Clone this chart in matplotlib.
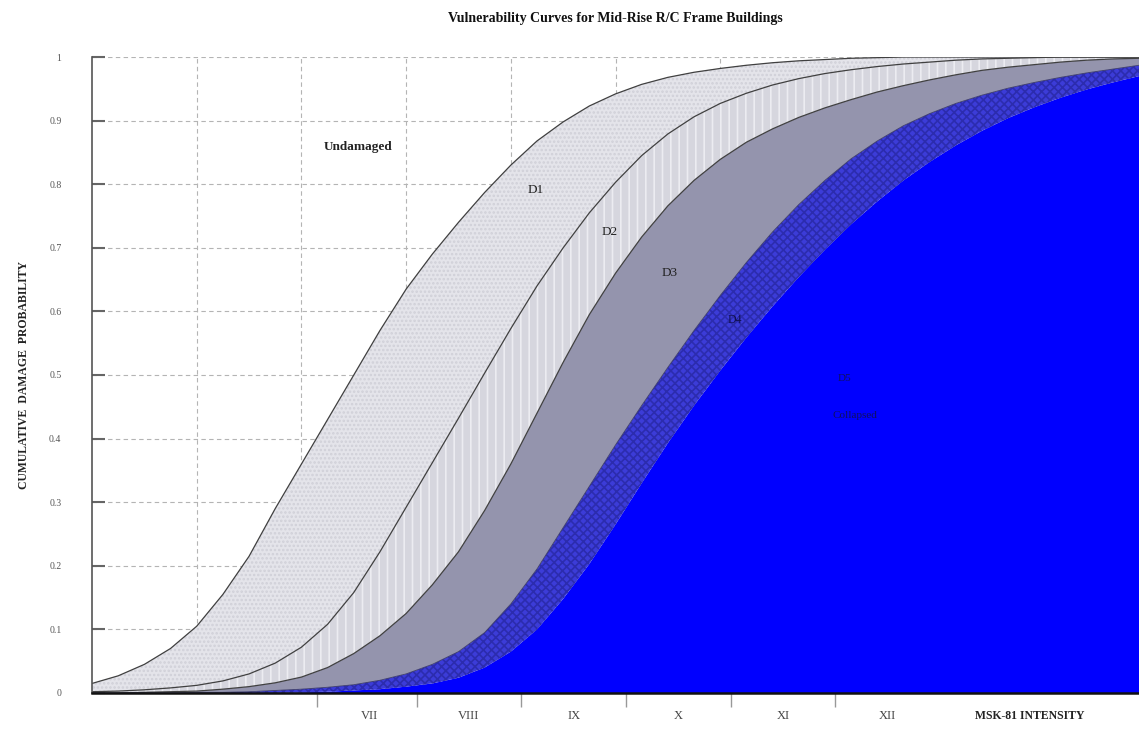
import numpy as np
import matplotlib; matplotlib.use("Agg")
import matplotlib.pyplot as plt

plt.rcParams["font.family"] = ["Liberation Serif", "DejaVu Serif"]
plt.rcParams["hatch.linewidth"] = 1.2

X = np.arange(0, 10.01, 0.25)

C1 = [0.015, 0.027, 0.045, 0.07, 0.105, 0.155, 0.215, 0.29, 0.36, 0.43, 0.50, 0.57, 0.635, 0.69,
      0.74, 0.787, 0.83, 0.868, 0.898, 0.923, 0.942, 0.957, 0.968, 0.976, 0.982, 0.987, 0.991,
      0.994, 0.996, 0.998, 0.999, 1, 1, 1, 1, 1, 1, 1, 1, 1, 1]
C2 = [0.002, 0.003, 0.005, 0.008, 0.012, 0.019, 0.03, 0.047, 0.072, 0.108, 0.158, 0.222, 0.292,
      0.362, 0.432, 0.503, 0.573, 0.64, 0.70, 0.755, 0.803, 0.845, 0.879, 0.906, 0.927, 0.943, 0.956,
      0.966, 0.974, 0.98, 0.985, 0.989, 0.992, 0.995, 0.997, 0.998, 0.999, 1, 1, 1, 1]
C3 = [0, 0, 0.001, 0.002, 0.003, 0.006, 0.01, 0.016, 0.025, 0.04, 0.062, 0.09, 0.125, 0.17, 0.222,
      0.287, 0.36, 0.44, 0.52, 0.595, 0.66, 0.717, 0.766, 0.806, 0.839, 0.866, 0.887, 0.905, 0.92,
      0.933, 0.945, 0.955, 0.964, 0.972, 0.979, 0.984, 0.988, 0.992, 0.995, 0.997, 0.998]
C4 = [0, 0, 0, 0, 0.001, 0.001, 0.002, 0.004, 0.006, 0.009, 0.013, 0.02, 0.03, 0.045, 0.065, 0.095,
      0.14, 0.195, 0.26, 0.325, 0.39, 0.452, 0.512, 0.57, 0.625, 0.677, 0.725, 0.768, 0.806, 0.84,
      0.868, 0.892, 0.911, 0.927, 0.94, 0.951, 0.96, 0.968, 0.975, 0.981, 0.987]
C5 = [0, 0, 0, 0, 0, 0, 0, 0, 0.001, 0.002, 0.004, 0.006, 0.01, 0.015, 0.024, 0.04, 0.065, 0.1,
      0.148, 0.203, 0.265, 0.33, 0.393, 0.452, 0.507, 0.559, 0.608, 0.654, 0.697, 0.737, 0.773,
      0.806, 0.835, 0.861, 0.884, 0.904, 0.921, 0.936, 0.949, 0.96, 0.97]

intens_labels = ["VII", "VIII", "IX", "X", "XI", "XII"]
intens_ticks = [2.15, 3.1, 4.1, 5.1, 6.1, 7.1]
yticks = np.round(np.arange(0, 1.01, 0.1), 1)
ytick_labels = ["0"] + [f"{v:.1f}" for v in yticks[1:-1]] + ["1"]

fig = plt.figure(figsize=(11.39, 7.29), dpi=100)
ax = fig.add_axes([0.0808, 0.0494, 0.9192, 0.8724])
ax.set_xlim(0, 10); ax.set_ylim(0, 1)

# grid (under the fills)
for gx in range(1, 10):
    ax.axvline(gx, color="#b4b4b4", lw=0.8, ls=(0, (4, 3)), zorder=0)
for gy in yticks[1:]:
    ax.axhline(gy, color="#b4b4b4", lw=0.8, ls=(0, (4, 3)), zorder=0)

# damage bands
ax.fill_between(X, 0, C5, facecolor="#0000ff", lw=0, zorder=1)
ax.fill_between(X, C5, C4, facecolor="#3c3cd8", edgecolor="#2c2cae", hatch="xxxx", lw=0, zorder=1)
ax.fill_between(X, C4, C3, facecolor="#9494ad", lw=0, zorder=1)
ax.fill_between(X, C3, C2, facecolor="#d6d6de", edgecolor="#ececf1", hatch="||", lw=0, zorder=1)
ax.fill_between(X, C2, C1, facecolor="#e4e4ea", edgecolor="#d0d0d8", hatch="....", lw=0, zorder=1)
for c, col, w in [(C1, "#404040", 0.9), (C2, "#404040", 0.9), (C3, "#404040", 0.9),
                  (C4, "#3a3a6a", 0.6)]:
    ax.plot(X, c, color=col, lw=w, zorder=2)

# labels in the bands
ax.text(2.54, 0.858, "Undamaged", fontsize=9.5, fontweight="bold", color="#222", ha="center", va="center")
ax.text(4.24, 0.791, "D1", fontsize=9.5, color="#222", ha="center", va="center")
ax.text(4.94, 0.725, "D2", fontsize=9.5, color="#222", ha="center", va="center")
ax.text(5.52, 0.66, "D3", fontsize=9.5, color="#222", ha="center", va="center")
ax.text(6.14, 0.586, "D4", fontsize=8.5, color="#101050", ha="center", va="center")
ax.text(7.19, 0.495, "D5", fontsize=8, color="#101060", ha="center", va="center")
ax.text(7.29, 0.437, "Collapsed", fontsize=8, color="#101060", ha="center", va="center")

# axes styling
for s in ["top", "right"]:
    ax.spines[s].set_visible(False)
ax.spines["left"].set_color("#555555"); ax.spines["left"].set_linewidth(1.2)
ax.spines["bottom"].set_color("#111111"); ax.spines["bottom"].set_linewidth(1.8)
ax.set_yticks(yticks)
ax.set_yticklabels(ytick_labels, fontsize=7, color="#555555")
ax.tick_params(axis="y", direction="in", length=9, width=1.5, color="#666666", pad=22)
ax.set_xticks(intens_ticks)
ax.set_xticklabels([])
ax.tick_params(axis="x", direction="out", length=10, width=1, color="#999999")

for i, lab in enumerate(intens_labels):
    ax.text(intens_ticks[i] + 0.5, -0.036, lab, fontsize=9, color="#444", ha="center", va="center",
            clip_on=False)
ax.text(8.96, -0.036, "MSK-81 INTENSITY", fontsize=8.5, fontweight="bold", color="#222",
        ha="center", va="center", clip_on=False)

ax.set_ylabel("CUMULATIVE  DAMAGE  PROBABILITY", fontsize=8.5, fontweight="bold", color="#222", labelpad=14)
fig.text(0.54, 0.975, "Vulnerability Curves for Mid-Rise R/C Frame Buildings", fontsize=10,
         fontweight="bold", color="#111", ha="center", va="center")

fig.savefig("out.png", dpi=100, facecolor="white")
